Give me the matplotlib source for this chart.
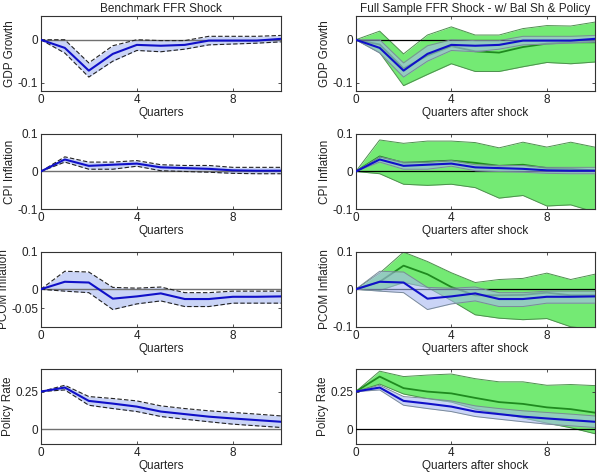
import numpy as np
import matplotlib
matplotlib.use("Agg")
import matplotlib.pyplot as plt

plt.rcParams['font.family'] = ['Liberation Sans', 'DejaVu Sans']

# quarters after shock
quarters = list(range(11))

# benchmark (blue) responses: median, upper band, lower band
gdp_med = [0, -0.019, -0.072, -0.033, -0.012, -0.014, -0.012, -0.002, -0.002, -0.002, 0.002]
gdp_up = [0, 0, -0.054, -0.014, 0, -0.002, -0.002, 0.008, 0.008, 0.008, 0.010]
gdp_lo = [0, -0.031, -0.087, -0.050, -0.025, -0.028, -0.022, -0.012, -0.010, -0.008, -0.005]

cpi_med = [0, 0.032, 0.015, 0.018, 0.021, 0.011, 0.009, 0.007, 0.003, 0.002, 0.002]
cpi_up = [0, 0.039, 0.025, 0.025, 0.029, 0.018, 0.016, 0.016, 0.011, 0.011, 0.011]
cpi_lo = [0, 0.025, 0.006, 0.006, 0.014, 0.002, 0, -0.002, -0.005, -0.006, -0.006]

pcom_med = [0, 0.020, 0.018, -0.025, -0.019, -0.011, -0.026, -0.026, -0.020, -0.020, -0.019]
pcom_up = [0, 0.048, 0.046, 0.005, 0.003, 0.006, -0.009, -0.009, -0.005, -0.005, -0.005]
pcom_lo = [0, -0.005, -0.009, -0.054, -0.039, -0.031, -0.046, -0.046, -0.037, -0.037, -0.037]

rate_med = [0.25, 0.277, 0.188, 0.170, 0.150, 0.117, 0.100, 0.083, 0.071, 0.060, 0.049]
rate_up = [0.25, 0.292, 0.217, 0.204, 0.188, 0.155, 0.137, 0.122, 0.111, 0.100, 0.088]
rate_lo = [0.25, 0.261, 0.159, 0.137, 0.117, 0.084, 0.066, 0.049, 0.033, 0.022, 0.011]

# full sample w/ balance sheet & policy (green)
gdp_med_fs = [0, -0.011, -0.067, -0.037, -0.015, -0.027, -0.030, -0.017, -0.009, -0.006, -0.006]
gdp_up_fs = [0, 0.020, -0.033, 0.011, 0.030, 0.011, 0.011, 0.026, 0.033, 0.032, 0.041]
gdp_lo_fs = [0, -0.030, -0.107, -0.081, -0.056, -0.074, -0.074, -0.063, -0.053, -0.056, -0.052]

cpi_med_fs = [0, 0.040, 0.023, 0.026, 0.029, 0.023, 0.015, 0.018, 0.009, 0.007, 0.003]
cpi_up_fs = [0, 0.084, 0.075, 0.081, 0.081, 0.077, 0.063, 0.078, 0.065, 0.078, 0.065]
cpi_lo_fs = [0, -0.006, -0.034, -0.037, -0.034, -0.043, -0.071, -0.064, -0.092, -0.089, -0.108]

pcom_med_fs = [0, 0.020, 0.063, 0.040, 0.006, -0.016, -0.016, -0.015, -0.009, -0.016, -0.016]
pcom_up_fs = [0, 0.043, 0.099, 0.074, 0.044, 0.018, 0.026, 0.029, 0.043, 0.026, 0.040]
pcom_lo_fs = [0, -0.003, 0.018, 0.005, -0.030, -0.068, -0.077, -0.081, -0.078, -0.100, -0.107]

rate_med_fs = [0.25, 0.350, 0.273, 0.250, 0.238, 0.208, 0.180, 0.168, 0.145, 0.133, 0.110]
rate_up_fs = [0.25, 0.386, 0.350, 0.360, 0.367, 0.336, 0.315, 0.315, 0.292, 0.297, 0.290]
rate_lo_fs = [0.25, 0.300, 0.234, 0.203, 0.180, 0.133, 0.105, 0.075, 0.040, 0.009, -0.030]

ylabels = ['GDP Growth', 'CPI Inflation', 'PCOM Inflation', 'Policy Rate']
bench = [(gdp_med, gdp_up, gdp_lo), (cpi_med, cpi_up, cpi_lo),
         (pcom_med, pcom_up, pcom_lo), (rate_med, rate_up, rate_lo)]
full = [(gdp_med_fs, gdp_up_fs, gdp_lo_fs), (cpi_med_fs, cpi_up_fs, cpi_lo_fs),
        (pcom_med_fs, pcom_up_fs, pcom_lo_fs), (rate_med_fs, rate_up_fs, rate_lo_fs)]
ylims_left = [(-0.12, 0.055), (-0.1, 0.1), (-0.1, 0.1), (-0.1, 0.4)]
ylims_right = [(-0.12, 0.055), (-0.1, 0.1), (-0.1, 0.1), (-0.1, 0.4)]
yticks_left = [[-0.1, 0], [-0.1, 0, 0.1], [-0.05, 0, 0.1], [0, 0.25]]
yticks_right = [[-0.1, 0], [-0.1, 0, 0.1], [-0.1, 0, 0.1], [0, 0.25]]
ytlabels_left = [['-0.1', '0'], ['-0.1', '0', '0.1'], ['-0.05', '0', '0.1'], ['0', '0.25']]
ytlabels_right = [['-0.1', '0'], ['-0.1', '0', '0.1'], ['-0.1', '0', '0.1'], ['0', '0.25']]

blue = '#1010c8'
blue_fill = '#a8b8f0'
green_fill = '#74ea74'
green_line = '#1f8a1f'
green_edge = '#4f8f4f'
txt = '#222222'

fig = plt.figure(figsize=(6, 4.75), dpi=100)

# row bottoms in figure fraction (from pixel positions)
row_bottom = [0.808, 0.560, 0.312, 0.065]
row_h = 0.158


def style_axis(ax, ylim, yt, ytl, xlab):
    ax.set_xlim(0, 10)
    ax.set_ylim(*ylim)
    ax.set_xticks([0, 4, 8])
    ax.set_yticks(yt)
    ax.set_yticklabels(ytl)
    ax.tick_params(direction='in', top=True, right=True, length=2.5, width=0.6,
                   labelsize=8.5, colors='#333333', labelcolor=txt, pad=2)
    ax.set_xlabel(xlab, fontsize=8.5, color=txt, labelpad=1)
    for s in ax.spines.values():
        s.set_linewidth(0.8)
        s.set_color('#333333')


for i in range(4):
    # left column - benchmark
    ax = fig.add_axes([0.068, row_bottom[i], 0.400, row_h])
    med, up, lo = bench[i]
    ax.fill_between(quarters, lo, up, color=blue_fill, alpha=0.6, lw=0, zorder=1)
    ax.axhline(0, color='#707070', lw=1.0, zorder=2)
    ax.plot(quarters, up, color='#222222', lw=0.8, ls=(0, (4, 2)), zorder=3)
    ax.plot(quarters, lo, color='#222222', lw=0.8, ls=(0, (4, 2)), zorder=3)
    ax.plot(quarters, med, color=blue, lw=1.5, zorder=4)
    style_axis(ax, ylims_left[i], yticks_left[i], ytlabels_left[i], 'Quarters')
    ax.set_ylabel(ylabels[i], fontsize=8.5, color=txt, labelpad=1)
    if i == 0:
        ax.set_title('Benchmark FFR Shock', fontsize=8.5, color=txt, pad=3)

    # right column - full sample
    ax = fig.add_axes([0.593, row_bottom[i], 0.398, row_h])
    gmed, gup, glo = full[i]
    ax.fill_between(quarters, glo, gup, color=green_fill, lw=0, zorder=1)
    ax.plot(quarters, gup, color=green_edge, lw=0.7, zorder=2)
    ax.plot(quarters, glo, color=green_edge, lw=0.7, zorder=2)
    ax.plot(quarters, gmed, color=green_line, lw=1.3, zorder=2)
    ax.axhline(0, color='black', lw=0.9, zorder=3)
    ax.fill_between(quarters, lo, up, color=blue_fill, alpha=0.6, lw=0, zorder=4)
    ax.plot(quarters, up, color='#7a8a9a', lw=0.7, zorder=5)
    ax.plot(quarters, lo, color='#7a8a9a', lw=0.7, zorder=5)
    ax.plot(quarters, med, color=blue, lw=1.5, zorder=6)
    style_axis(ax, ylims_right[i], yticks_right[i], ytlabels_right[i], 'Quarters after shock')
    ax.set_ylabel(ylabels[i], fontsize=8.5, color=txt, labelpad=1)
    if i == 0:
        ax.set_title('Full Sample FFR Shock - w/ Bal Sh & Policy', fontsize=8.5, color=txt, pad=3)

fig.savefig('out.png', dpi=100)
